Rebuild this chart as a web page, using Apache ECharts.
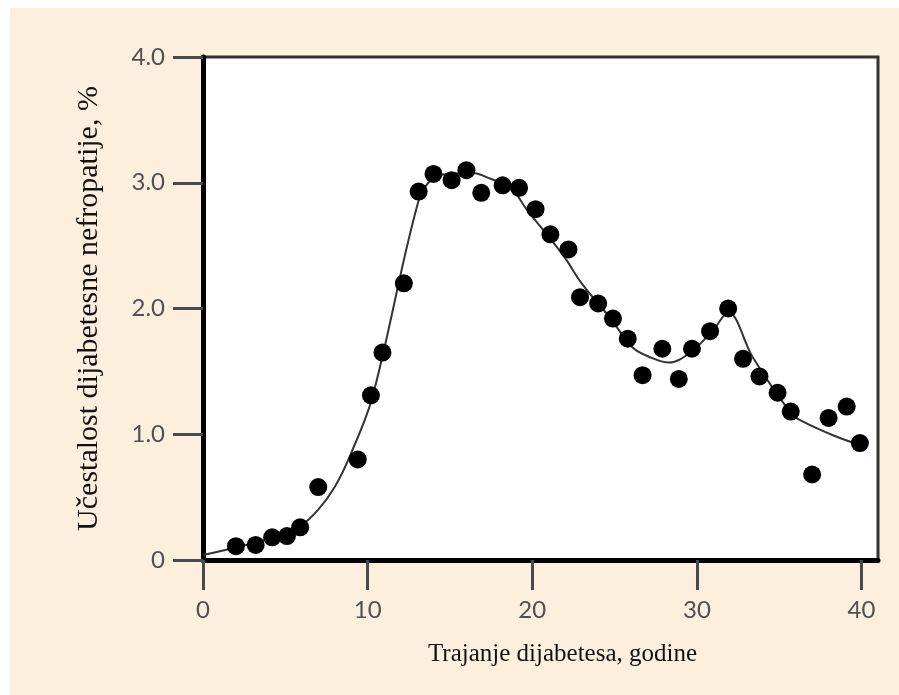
<!DOCTYPE html>
<html>
<head>
<meta charset="utf-8">
<script src="https://cdn.jsdelivr.net/npm/echarts@6/dist/echarts.min.js"></script>
<style>
html,body{margin:0;padding:0;background:#ffffff;}
#chart{width:899px;height:695px;}
</style>
</head>
<body>
<div id="chart"></div>
<script>
// Observed points (duration in years, prevalence %)
var pointX = [2.0, 3.2, 4.2, 5.1, 5.9, 7.0, 9.4, 10.2, 10.9, 12.2, 13.1, 14.0, 15.1, 16.0, 16.9, 18.2, 19.2, 20.2, 21.1, 22.2, 22.9, 24.0, 24.9, 25.8, 26.7, 27.9, 28.9, 29.7, 30.8, 31.9, 32.8, 33.8, 34.9, 35.7, 37.0, 38.0, 39.1, 39.9];
var pointY = [0.11, 0.12, 0.18, 0.19, 0.26, 0.58, 0.80, 1.31, 1.65, 2.20, 2.93, 3.07, 3.02, 3.10, 2.92, 2.98, 2.96, 2.79, 2.59, 2.47, 2.09, 2.04, 1.92, 1.76, 1.47, 1.68, 1.44, 1.68, 1.82, 2.00, 1.60, 1.46, 1.33, 1.18, 0.68, 1.13, 1.22, 0.93];
// Fitted curve
var curveX = [0, 2, 4, 6, 7, 8, 9, 10.3, 13.1, 14.0, 15.0, 16.3, 17.5, 18.7, 19.7, 21.0, 22.0, 23.0, 24.7, 26.1, 27.2, 28.3, 29.6, 31.0, 31.9, 33.4, 35.7, 36.3, 38.3, 40];
var curveY = [0.04, 0.10, 0.17, 0.28, 0.40, 0.58, 0.85, 1.30, 2.86, 3.04, 3.07, 3.08, 3.03, 2.96, 2.78, 2.57, 2.40, 2.20, 1.93, 1.69, 1.61, 1.57, 1.65, 1.83, 1.97, 1.61, 1.17, 1.11, 0.99, 0.91];
var xTicks = [0, 10, 20, 30, 40];
var yTicks = [0, 1, 2, 3, 4];
var xTitle = 'Trajanje dijabetesa, godine';
var yTitle = 'Učestalost dijabetesne nefropatije, %';

var points = pointX.map(function (x, i) { return [x, pointY[i]]; });
var curve = curveX.map(function (x, i) { return [x, curveY[i]]; });

var chart = echarts.init(document.getElementById('chart'), null, {renderer: 'canvas'});
var labelFont = {fontFamily: 'Lato', fontSize: 24, color: '#505050'};
chart.setOption({
  backgroundColor: '#ffffff',
  animation: false,
  graphic: [{
    type: 'rect', z: -10, silent: true,
    shape: {x: 10, y: 8, width: 889, height: 687},
    style: {fill: '#fcefdd'}
  }],
  grid: {
    left: 203, top: 57, right: 21, bottom: 135,
    show: true, backgroundColor: '#ffffff', borderColor: '#333333', borderWidth: 3
  },
  xAxis: {
    type: 'value', min: 0, max: 41,
    name: xTitle, nameLocation: 'middle', nameGap: 82,
    nameTextStyle: {fontFamily: 'Liberation Serif', fontSize: 25, color: '#111111', padding: [0, 0, 0, 44]},
    axisLine: {show: true, onZero: false, lineStyle: {color: '#000000', width: 5}},
    axisTick: {show: true, inside: false, length: 30, customValues: xTicks, lineStyle: {color: '#4a4a4a', width: 3}},
    axisLabel: Object.assign({margin: 38, customValues: xTicks}, labelFont),
    splitLine: {show: false}
  },
  yAxis: {
    type: 'value', min: 0, max: 4, interval: 1,
    name: yTitle, nameLocation: 'middle', nameGap: 99, nameRotate: 90,
    nameTextStyle: {fontFamily: 'Liberation Serif', fontSize: 30, color: '#111111'},
    axisLine: {show: true, onZero: false, lineStyle: {color: '#000000', width: 5}},
    axisTick: {show: true, inside: false, length: 30, customValues: yTicks, lineStyle: {color: '#4a4a4a', width: 3}},
    axisLabel: Object.assign({
      margin: 38, customValues: yTicks,
      formatter: function (v) { return v === 0 ? '0' : v.toFixed(1); }
    }, labelFont),
    splitLine: {show: false}
  },
  series: [{
    type: 'line', data: curve, smooth: 0.35, showSymbol: false, symbol: 'none',
    lineStyle: {color: '#333333', width: 2}, z: 2
  }, {
    type: 'scatter', data: points, symbol: 'circle', symbolSize: 18,
    itemStyle: {color: '#000000', opacity: 1}, z: 3
  }]
});
</script>
</body>
</html>
